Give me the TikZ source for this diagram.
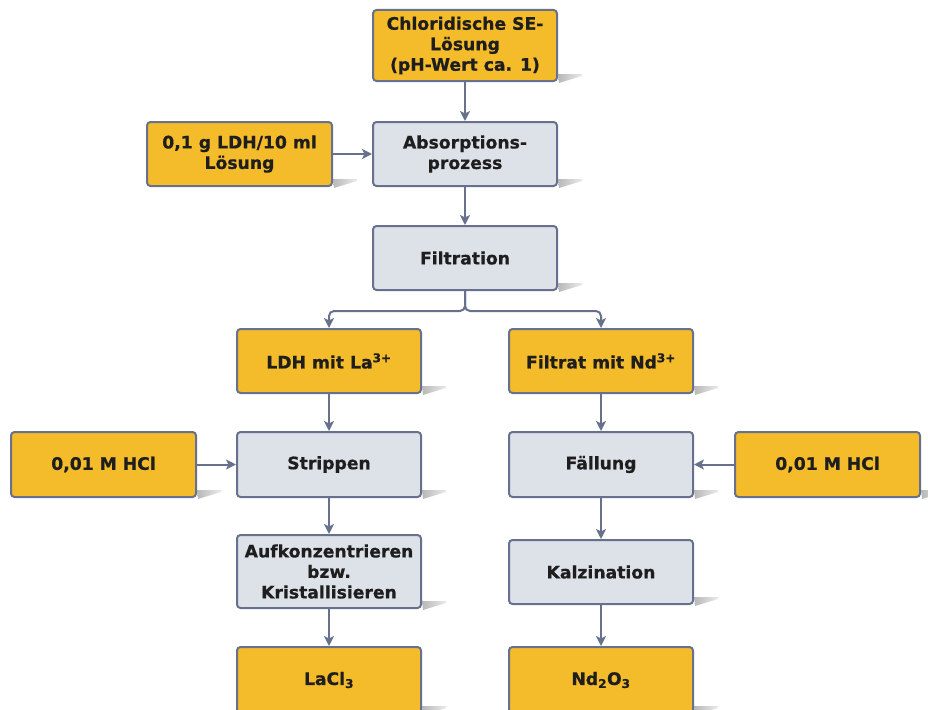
\documentclass[tikz,border=0pt]{standalone}
\usepackage{fontspec}
\setmainfont{DejaVu Sans}[BoldFeatures={FakeBold=0.7}]
\usetikzlibrary{arrows.meta,calc,backgrounds}
\definecolor{boxyellow}{HTML}{F4BB2A}
\definecolor{boxgrey}{HTML}{DDE1E8}
\definecolor{edgeblue}{HTML}{67718E}
\definecolor{inkdark}{HTML}{1E1E1E}
\tikzset{
  card/.style={draw=edgeblue, line width=2pt, rounded corners=3.5pt,
    minimum width=184pt, minimum height=64pt, align=center, text=inkdark,
    inner sep=2pt, font=\fontsize{17.2}{20.5}\selectfont\bfseries},
  input/.style={card, fill=boxyellow},
  process/.style={card, fill=boxgrey},
  flow/.style={draw=edgeblue, line width=2pt,
    -{Stealth[length=10pt,width=10pt,inset=2.5pt]}},
  dropshade/.style={left color=black!28, right color=black!8, draw=none}
}
% wedge-shaped shadow at the lower right corner of a box
\newcommand{\wedgeshade}[1]{%
  \begin{pgfonlayer}{background}
    \shade[dropshade] ($(#1.south east)+(0,-8)$) -- ++(24,0) -- ++(0,2)
      -- ($(#1.south east)+(1,1)$) -- cycle;
  \end{pgfonlayer}}
\begin{document}
\begin{tikzpicture}[x=1pt,y=-1pt]
\useasboundingbox (0,0) rectangle (928,709);
\clip (0,0) rectangle (928,709);

\node[input, minimum height=71pt] (sol) at (465,45.5)
  {Chloridische SE-\\Lösung\\(pH-Wert ca. 1)};
\node[input, minimum width=185pt] (ldh) at (239.5,154)
  {0,1 g LDH/10 ml\\Lösung};
\node[process] (abs) at (465,154) {Absorptions-\\prozess};
\node[process] (filt) at (465,258) {Filtration};
\node[input] (la) at (329,361) {LDH mit La\textsuperscript{3+}};
\node[input] (nd) at (601,361) {Filtrat mit Nd\textsuperscript{3+}};
\node[input, minimum width=185pt, minimum height=65pt] (hcla) at (103.5,464.5)
  {0,01 M HCl};
\node[process, minimum height=65pt] (strip) at (329,464.5) {Strippen};
\node[process, minimum height=65pt] (fall) at (601,464.5) {Fällung};
\node[input, minimum width=185pt, minimum height=65pt] (hclb) at (827.5,464.5)
  {0,01 M HCl};
\node[process, minimum height=73pt] (aufk) at (329,571.5)
  {Aufkonzentrieren\\bzw.\\Kristallisieren};
\node[process] (kalz) at (601,572) {Kalzination};
\node[input, minimum height=66pt] (lacl) at (329,680) {LaCl\textsubscript{3}};
\node[input, minimum height=66pt] (ndox) at (601,680) {Nd\textsubscript{2}O\textsubscript{3}};

\foreach \n in {sol,ldh,abs,filt,la,nd,hcla,strip,fall,hclb,aufk,kalz,lacl,ndox}
  {\wedgeshade{\n}}

\draw[flow] (sol) -- (abs);
\draw[flow] (ldh) -- (abs);
\draw[flow] (abs) -- (filt);
\draw[flow, rounded corners=5pt] (filt.south) -- ++(0,20) -| (la.north);
\draw[flow, rounded corners=5pt] (filt.south) -- ++(0,20) -| (nd.north);
\draw[flow] (la) -- (strip);
\draw[flow] (hcla) -- (strip);
\draw[flow] (strip) -- (aufk);
\draw[flow] (aufk) -- (lacl);
\draw[flow] (nd) -- (fall);
\draw[flow] (hclb) -- (fall);
\draw[flow] (fall) -- (kalz);
\draw[flow] (kalz) -- (ndox);
\end{tikzpicture}
\end{document}
